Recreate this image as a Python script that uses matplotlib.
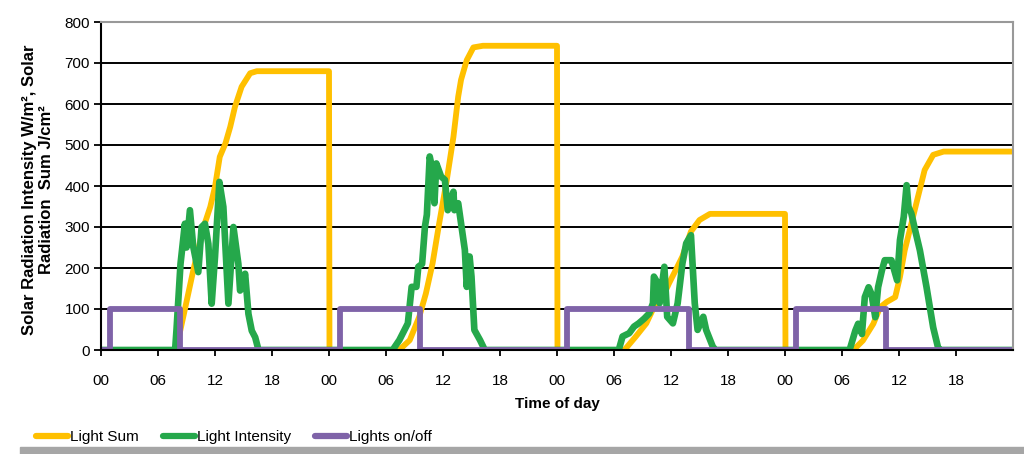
import matplotlib.pyplot as plt
from matplotlib.patches import Rectangle

plt.rcParams['font.family'] = ['Liberation Sans', 'DejaVu Sans']

# Light Sum (J/cm2), hours from start of day 1
sum_t = [0, 7.9, 8.8, 9.7, 10.8, 11.5, 12.0, 12.5, 13.1, 13.6, 14.1, 14.8, 15.7, 16.4, 24.0, 24.05,
         31.4, 32.5, 33.5, 34.2, 34.9, 35.6, 36.4, 37.1, 37.6, 37.9, 38.5, 39.2, 40.2, 48.0, 48.05,
         55.1, 56.3, 57.4, 58.4, 59.3, 59.8, 60.5, 61.2, 62.1, 63.0, 64.1, 72.0, 72.05,
         79.2, 80.2, 81.3, 82.0, 82.7, 83.6, 84.1, 84.6, 85.3, 86.0, 86.7, 87.6, 88.7, 96]
sum_v = [0, 0, 96, 193, 300, 349, 398, 471, 504, 544, 593, 642, 675, 680, 680, 0,
         0, 24, 81, 138, 211, 309, 415, 520, 618, 659, 707, 738, 742, 742, 0,
         0, 33, 65, 114, 138, 163, 195, 228, 289, 317, 332, 332, 0,
         0, 23, 64, 104, 117, 129, 178, 243, 308, 374, 439, 476, 484, 484]

# Light Intensity (W/m2)
int_t = [0, 7.8, 7.95, 8.37, 8.83, 9.0, 9.36, 9.71, 10.24, 10.59, 10.94, 11.30, 11.65, 12.0, 12.46,
         12.88, 13.41, 13.94, 14.46, 14.64, 15.17, 15.52, 15.87, 16.23, 16.58,
         30.7, 31.4, 32.3, 32.7, 33.2, 33.4, 33.8, 34.1, 34.3, 34.6, 34.9, 35.1, 35.3, 35.8, 36.2,
         36.5, 37.1, 37.2, 37.6, 37.9, 38.3, 38.5, 38.8, 39.0, 39.3, 39.9, 40.4,
         54.5, 54.9, 55.6, 56.1, 56.6, 57.2, 57.7, 58.1, 58.2, 58.6, 58.8, 59.3, 59.6, 60.2, 60.7,
         61.2, 61.6, 62.1, 62.5, 62.8, 63.4, 63.7, 64.4, 64.7,
         78.8, 79.4, 79.7, 80.1, 80.4, 80.8, 81.1, 81.5, 81.8, 82.2, 82.5, 83.2, 83.8, 84.1, 84.5,
         84.8, 85.0, 85.3, 85.7, 86.2, 86.9, 87.6, 88.1, 88.3, 96]
int_v = [0, 0, 50, 210, 308, 250, 341, 252, 190, 300, 308, 259, 113, 227, 410,
         349, 113, 300, 210, 145, 186, 88, 47, 31, 0,
         0, 24, 65, 154, 154, 203, 210, 301, 330, 472, 439, 358, 455, 423, 415,
         341, 386, 341, 358, 309, 244, 154, 228, 179, 49, 24, 0,
         0, 33, 41, 57, 65, 77, 89, 114, 179, 163, 114, 203, 81, 65, 114,
         211, 260, 280, 114, 49, 81, 49, 8, 0,
         0, 47, 64, 39, 129, 153, 137, 80, 153, 194, 219, 219, 170, 268, 325,
         402, 349, 333, 292, 243, 153, 55, 7, 0, 0]

# Lights on/off (step)
on_t = [0, 0.95, 8.3, 25.2, 33.6, 49.1, 61.9, 73.2, 82.6, 96]
on_v = [0, 100, 0, 100, 0, 100, 0, 100, 0, 0]

tick_hours = list(range(0, 96, 6))
tick_labels = ['00', '06', '12', '18'] * 4

YELLOW = '#FFC000'
GREEN = '#25A84B'
PURPLE = '#7F63A8'

fig = plt.figure(figsize=(10.24, 4.54), dpi=100)
ax = fig.add_axes([101 / 1024, 104 / 454, 912 / 1024, 328 / 454])

ax.plot(sum_t, sum_v, color=YELLOW, lw=4.2, solid_joinstyle='round', solid_capstyle='round',
        label='Light Sum')
ax.plot(int_t, int_v, color=GREEN, lw=4.8, solid_joinstyle='round', solid_capstyle='round',
        label='Light Intensity')
ax.plot(on_t, on_v, color=PURPLE, lw=4.2, drawstyle='steps-post', solid_joinstyle='round',
        label='Lights on/off')

ax.set_xlim(0, 96)
ax.set_ylim(0, 800)
ax.set_yticks(range(0, 801, 100))
ax.set_xticks(tick_hours)
ax.set_xticklabels(tick_labels)
ax.yaxis.grid(True, color='black', lw=1.4)
ax.set_axisbelow(True)

for side in ['top', 'right']:
    ax.spines[side].set_color('#999999')
    ax.spines[side].set_linewidth(1.5)
ax.spines['left'].set_linewidth(1.5)
ax.spines['bottom'].set_linewidth(1.5)

ax.tick_params(axis='y', length=5, width=1.3, pad=3, labelsize=11)
ax.tick_params(axis='x', length=4, width=1.3, pad=13, labelsize=11)

ax.set_xlabel('Time of day', fontweight='bold', fontsize=11, labelpad=7)
ax.set_ylabel('Solar Radiation Intensity W/m², Solar\nRadiation  Sum J/cm²',
              fontweight='bold', fontsize=12, linespacing=1.1)
ax.yaxis.set_label_coords(-0.052, 0.49)

leg = fig.legend(loc='center left', bbox_to_anchor=(30 / 1024, 1 - 437 / 454), ncol=3,
                 frameon=False, fontsize=11, handlelength=2.1, handletextpad=0.1,
                 columnspacing=1.6, borderaxespad=0)
for line in leg.get_lines():
    line.set_linewidth(4.5)
    line.set_solid_capstyle('round')

# gray bar at bottom of the image
fig.patches.append(Rectangle((20 / 1024, 0), 1, 7 / 454, transform=fig.transFigure,
                             color='#a6a6a6', zorder=0))

fig.savefig('out.png', dpi=100)
